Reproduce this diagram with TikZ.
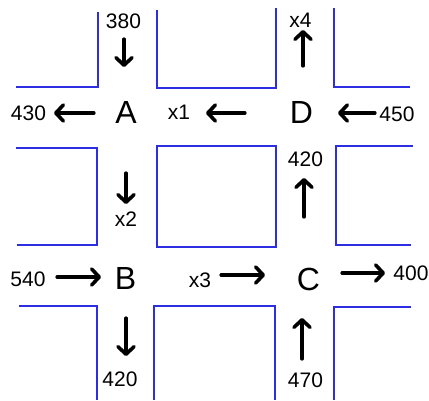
\documentclass[tikz,border=0pt]{standalone}
\usepackage{fontspec}
\setmainfont{Liberation Sans}
\usetikzlibrary{arrows.meta}
\definecolor{wallblue}{RGB}{45,45,225}
\begin{document}
\begin{tikzpicture}[x=1pt,y=-1pt,
  wall/.style={draw=wallblue,line width=1.3pt},
  flow/.style={draw=black,line width=3.2pt,line cap=round,line join=round,
    -{Straight Barb[length=7.5pt,width=16pt,line width=3.6pt,round]}},
  letter/.style={inner sep=0pt,font=\fontsize{32}{32}\selectfont},
  num/.style={inner sep=0pt,font=\fontsize{21}{21}\selectfont}]
\useasboundingbox (0,0) rectangle (429,400);
% blocks
\draw[wall] (16,87) -- (98,87) -- (98,12);
\draw[wall] (157,10) -- (157,88) -- (276,88) -- (276,8);
\draw[wall] (334,8) -- (334,87) -- (410,87);
\draw[wall] (16,148) -- (97,148) -- (97,245) -- (17,245);
\draw[wall] (157,146) rectangle (276,247);
\draw[wall] (413,146) -- (336,146) -- (336,245) -- (411,245);
\draw[wall] (19,306) -- (97,306) -- (97,400);
\draw[wall] (154,400) -- (154,306) -- (275,306) -- (275,400);
\draw[wall] (334,400) -- (334,307) -- (411,307);
% intersections
\node[letter] (A) at (126,112) {A};
\node[letter] (D) at (301.5,112) {D};
\node[letter] (B) at (125.5,278.5) {B};
\node[letter] (C) at (308.5,279.5) {C};
% labels
\node[num] (n380) at (123.5,21) {380};
\node[num] (n430) at (28.5,113) {430};
\node[num] (nx1) at (179,112.5) {x1};
\node[num] (n450) at (397,114.5) {450};
\node[num] (nx4) at (300.5,20) {x4};
\node[num] (n420t) at (305.5,159.5) {420};
\node[num] (nx2) at (126,219.5) {x2};
\node[num] (n540) at (28,279.5) {540};
\node[num] (nx3) at (200,280) {x3};
\node[num] (n400) at (411,273.5) {400};
\node[num] (n420b) at (120,379.5) {420};
\node[num] (n470) at (305.5,380.5) {470};
% arrow ends
\coordinate (a1s) at (124,39);   \coordinate (a1e) at (124,67);
\coordinate (a2s) at (94,113);   \coordinate (a2e) at (54,113);
\coordinate (a3s) at (245,113);  \coordinate (a3e) at (206,113);
\coordinate (a4s) at (375,113);  \coordinate (a4e) at (338,113);
\coordinate (a5s) at (303,66);   \coordinate (a5e) at (303,30);
\coordinate (a6s) at (126,173);  \coordinate (a6e) at (126,204);
\coordinate (a7s) at (304,217);  \coordinate (a7e) at (304,178);
\coordinate (a8s) at (57,277);   \coordinate (a8e) at (101,277);
\coordinate (a9s) at (221,275);  \coordinate (a9e) at (265,275);
\coordinate (a10s) at (342,273); \coordinate (a10e) at (385,273);
\coordinate (a11s) at (126,318); \coordinate (a11e) at (126,356);
\coordinate (a12s) at (302,359); \coordinate (a12e) at (302,318);
\foreach \i in {1,...,12} {\draw[flow] (a\i s) -- (a\i e);}
\end{tikzpicture}
\end{document}
